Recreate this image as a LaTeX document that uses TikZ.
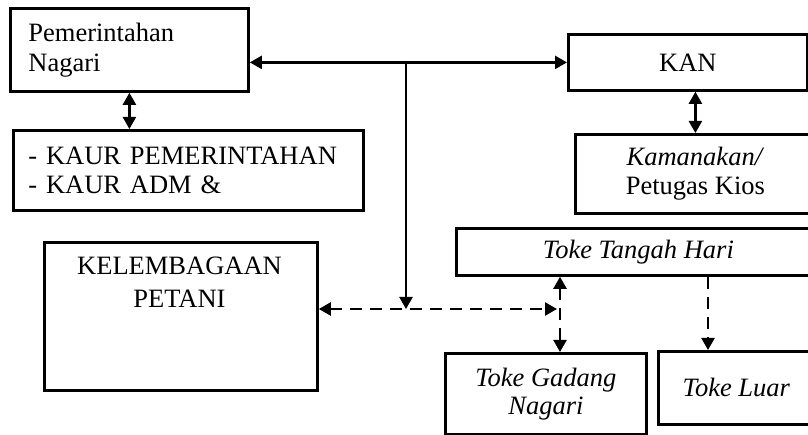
\documentclass[tikz,border=0pt]{standalone}
\usepackage{fontspec}
\setmainfont{Liberation Serif}
\usetikzlibrary{arrows.meta}
\begin{document}
\begin{tikzpicture}[x=1pt,y=-1pt,
  box/.style={draw, line width=2.8pt, rectangle, inner sep=0pt, anchor=north west,
    font=\fontsize{26.5}{28.5}\selectfont},
  conn/.style={line width=2.3pt},
  tiptri/.tip={Triangle[length=12pt,width=13pt]},
  oneway/.style={-tiptri},
  twoway/.style={tiptri-tiptri},
  dsh/.style={dash pattern=on 12pt off 8pt}]
\useasboundingbox (0,0) rectangle (808,435);
% boxes
\node[box, minimum width=238pt, minimum height=83pt, text width=202pt, align=left,
  font=\fontsize{26.5}{30}\selectfont] (pn) at (9,7) {Pemerintahan\\Nagari};
\node[box, minimum width=350pt, minimum height=80pt, text width=320pt, align=left] (kaur) at (12,129)
  {- KAUR PEMERINTAHAN\\- KAUR ADM \&};
\node[box, minimum width=273pt, minimum height=148pt] (kel) at (43,241) {};
\node[inner sep=0pt, anchor=north, align=center, font=\fontsize{26.5}{29}\selectfont] (keltxt)
  at (179.5,257) {KELEMBAGAAN\\[4pt]PETANI};
\node[box, minimum width=239pt, minimum height=56pt] (kan) at (567,33) {KAN};
\node[box, minimum width=240pt, minimum height=79pt, align=center] (kam) at (574,133)
  {\textit{Kamanakan/}\\Petugas Kios};
\node[box, minimum width=364pt, minimum height=47pt] (tth) at (455,227) {\textit{Toke Tangah Hari}};
\node[box, minimum width=201pt, minimum height=81pt, align=center] (tgn) at (444,352)
  {\textit{Toke Gadang}\\\textit{Nagari}};
\node[box, minimum width=156pt, minimum height=73pt] (tl) at (657,350) {\textit{Toke Luar}};
% junctions
\coordinate (j1) at (406,61);
\coordinate (j2) at (406,309);
\coordinate (j3) at (560,309);
\coordinate (t1) at (708,0);
% connectors
\draw[conn, twoway] (pn.east |- kan.west) -- (kan.west);
\draw[conn, oneway] (j1) -- (j2);
\draw[conn, twoway] (pn.south) -- (pn.south |- kaur.north);
\draw[conn, twoway] (kam.north |- kan.south) -- (kam.north);
\draw[conn, dsh, twoway, shorten >=3pt] (kel.east |- j2) -- (j3);
\draw[conn, dsh, twoway] (tth.south -| j3) -- (tgn.north -| j3);
\draw[conn, dsh, oneway] (tth.south -| t1) -- (tl.north -| t1);
\end{tikzpicture}
\end{document}
